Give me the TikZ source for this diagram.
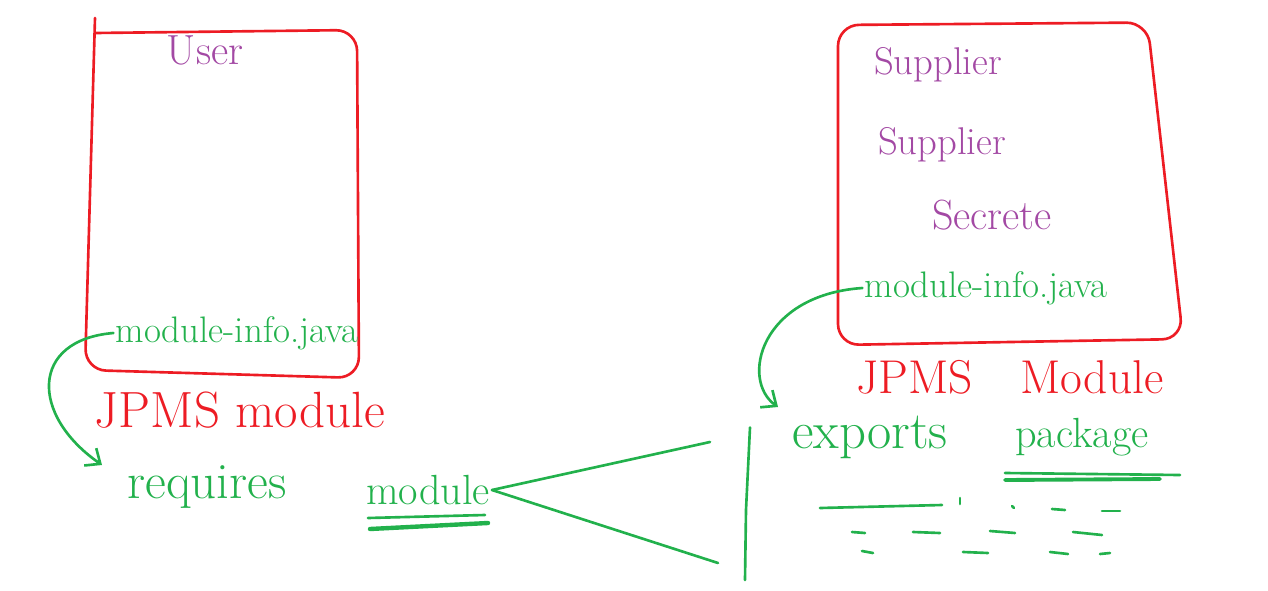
\documentclass[tikz,border=0pt]{standalone}
\usepackage{tikz}
\usetikzlibrary{arrows.meta, positioning, calc}
\definecolor{skred}{RGB}{237, 28, 36}
\definecolor{skpurple}{RGB}{163, 73, 164}
\definecolor{skgreen}{RGB}{34, 177, 76}
\tikzset{
  pen/.style={line width=1.5pt, line cap=round, line join=round},
  boxline/.style={pen, draw=skred, rounded corners=12pt},
  hand/.style={inner sep=1pt},
  purpletxt/.style={hand, text=skpurple},
  greentxt/.style={hand, text=skgreen},
  redtxt/.style={hand, text=skred},
  curvearrow/.style={pen, draw=skgreen, -{Straight Barb[length=7pt, width=12pt, line width=1.5pt]}}
}
\newcommand{\fsz}[1]{\fontsize{#1}{#1}\selectfont}
\begin{document}
\begin{tikzpicture}
    \useasboundingbox (0,0) rectangle (25.36,-11.8);
    % Boxes
    \draw[boxline] (1.9,-0.36) -- (1.7,-7.4) -- (7.18,-7.56) -- (7.14,-0.6) -- (1.9,-0.66);
    \draw[boxline] (16.76,-6.9) -- (16.76,-0.5) -- (22.95,-0.45) -- (23.66,-6.78) -- cycle;

    % Left module
    \node[purpletxt, font=\fsz{24}] (user) at (4.1,-1.0) {User};
    \node[greentxt, font=\fsz{21}] (lmodinfo) at (4.74,-6.66) {module-info.java};
    \node[redtxt, font=\fsz{29}] (ljpms) at (4.8,-8.2) {JPMS module};
    \node[greentxt, font=\fsz{29}] (requires) at (4.14,-9.75) {requires};
    \node[greentxt, font=\fsz{24}] (lmodule) at (8.56,-9.8) {module};

    % Right module
    \node[purpletxt, font=\fsz{22}] (supp1) at (18.76,-1.3) {Supplier};
    \node[purpletxt, font=\fsz{22}] (supp2) at (18.84,-2.9) {Supplier};
    \node[purpletxt, font=\fsz{24}] (secrete) at (19.84,-4.3) {Secrete};
    \node[greentxt, font=\fsz{21}] (rmodinfo) at (19.72,-5.76) {module-info.java};
    \node[redtxt, font=\fsz{27}] (rjpms) at (20.2,-7.55) {JPMS\quad Module};
    \node[greentxt, font=\fsz{30}] (exports) at (17.4,-8.75) {exports};
    \node[greentxt, font=\fsz{24}] (package) at (21.64,-8.75) {package};

    % Underlines
    \draw[pen, skgreen] (7.36,-10.36) -- (9.7,-10.3);
    \draw[pen, skgreen, line width=2.5pt] (7.4,-10.58) -- (9.76,-10.46);
    \draw[pen, skgreen] (20.1,-9.46) -- (23.6,-9.5);
    \draw[pen, skgreen, line width=2.2pt] (20.1,-9.6) -- (23.2,-9.58);

    % Bracket and fork
    \coordinate (forktop) at (14.2,-8.84);
    \coordinate (forkbot) at (14.36,-11.26);
    \draw[pen, skgreen] (15.0,-8.55) -- (14.92,-10.2) -- (14.9,-11.6);
    \draw[pen, skgreen] (lmodule.east) -- (forktop);
    \draw[pen, skgreen] (lmodule.east) -- (forkbot);

    % Placeholder dashes
    \draw[pen, skgreen] (16.4,-10.16) -- (18.84,-10.1);
    \draw[pen, skgreen] (19.2,-9.96) -- (19.2,-10.08);
    \draw[pen, skgreen] (20.24,-10.12) -- (20.28,-10.16);
    \draw[pen, skgreen] (21.04,-10.18) -- (21.3,-10.2);
    \draw[pen, skgreen] (22.04,-10.22) -- (22.4,-10.22);
    \draw[pen, skgreen] (17.04,-10.64) -- (17.3,-10.66);
    \draw[pen, skgreen] (18.26,-10.64) -- (18.8,-10.66);
    \draw[pen, skgreen] (19.8,-10.62) -- (20.3,-10.66);
    \draw[pen, skgreen] (21.46,-10.64) -- (22.04,-10.7);
    \draw[pen, skgreen] (17.24,-11.02) -- (17.46,-11.06);
    \draw[pen, skgreen] (19.26,-11.04) -- (19.76,-11.06);
    \draw[pen, skgreen] (21.0,-11.04) -- (21.36,-11.08);
    \draw[pen, skgreen] (22.0,-11.08) -- (22.2,-11.06);

    % Curved arrows
    \coordinate (ltip) at (2.04,-9.3);
    \coordinate (rtip) at (15.56,-8.14);
    \draw[curvearrow] (lmodinfo.west) .. controls (0.6,-6.8) and (0.6,-8.3) .. (ltip);
    \draw[curvearrow] (rmodinfo.west) .. controls (15.2,-5.9) and (14.8,-7.6) .. (rtip);
\end{tikzpicture}
\end{document}
